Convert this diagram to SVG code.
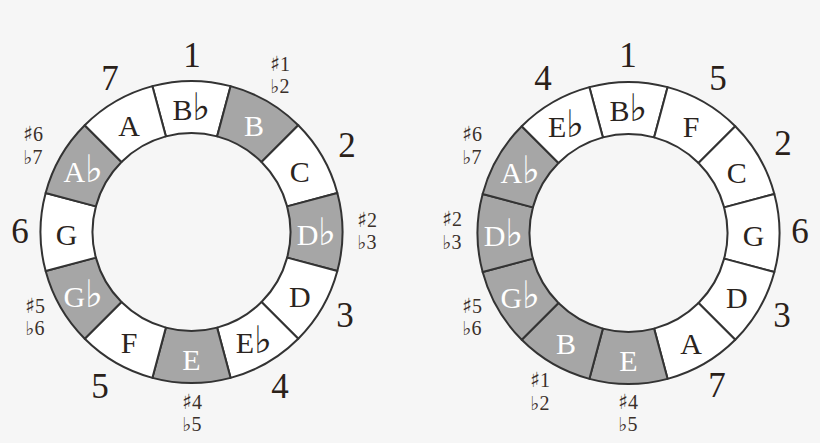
<svg xmlns="http://www.w3.org/2000/svg" xmlns:xlink="http://www.w3.org/1999/xlink" width="820" height="443" viewBox="0 0 820 443">
<defs>
<style>
.seg{stroke:#333;stroke-width:2;stroke-linejoin:round}
.w{fill:#fff}
.g{fill:#a6a6a6}
text{font-family:"Liberation Serif","DejaVu Serif",serif;text-anchor:middle}
.a{font-family:"DejaVu Sans","DejaVu Serif",sans-serif}
.n{font-size:30px;fill:#2a2420}
.n .a{font-size:38px}
.n.l{fill:#fff}
.num{font-size:35px;fill:#2a2119}
.sm{font-size:20px;fill:#3a302a}
.sm .s{font-size:21px}
.sm .f{font-size:19px}
</style>
<path id="s" d="M -39.08 -145.85 A 151 151 0 0 1 39.08 -145.85 L 25.62 -95.63 A 99 99 0 0 0 -25.62 -95.63 Z"/>
</defs>
<rect width="820" height="443" fill="#f6f6f6"/>

<g id="left" transform="translate(191.5 232)">
<g id="L-Bb"><use xlink:href="#s" class="seg w" transform="rotate(0)"/><text class="n" x="0" y="-112.5">B<tspan class="a">♭</tspan></text></g>
<g id="L-B"><use xlink:href="#s" class="seg g" transform="rotate(30)"/><text class="n l" x="62.5" y="-95.75">B</text></g>
<g id="L-C"><use xlink:href="#s" class="seg w" transform="rotate(60)"/><text class="n" x="108.25" y="-50">C</text></g>
<g id="L-Db"><use xlink:href="#s" class="seg g" transform="rotate(90)"/><text class="n l" x="125" y="12.5">D<tspan class="a">♭</tspan></text></g>
<g id="L-D"><use xlink:href="#s" class="seg w" transform="rotate(120)"/><text class="n" x="108.25" y="75">D</text></g>
<g id="L-Eb"><use xlink:href="#s" class="seg w" transform="rotate(150)"/><text class="n" x="62.5" y="120.75">E<tspan class="a">♭</tspan></text></g>
<g id="L-E"><use xlink:href="#s" class="seg g" transform="rotate(180)"/><text class="n l" x="0" y="137.5">E</text></g>
<g id="L-F"><use xlink:href="#s" class="seg w" transform="rotate(210)"/><text class="n" x="-62.5" y="120.75">F</text></g>
<g id="L-Gb"><use xlink:href="#s" class="seg g" transform="rotate(240)"/><text class="n l" x="-108.25" y="75">G<tspan class="a">♭</tspan></text></g>
<g id="L-G"><use xlink:href="#s" class="seg w" transform="rotate(270)"/><text class="n" x="-125" y="12.5">G</text></g>
<g id="L-Ab"><use xlink:href="#s" class="seg g" transform="rotate(300)"/><text class="n l" x="-108.25" y="-50">A<tspan class="a">♭</tspan></text></g>
<g id="L-A"><use xlink:href="#s" class="seg w" transform="rotate(330)"/><text class="n" x="-62.5" y="-95.75">A</text></g>
</g>

<g id="left-labels">
<text class="num" x="192" y="67">1</text>
<text class="num" x="110" y="90">7</text>
<text class="num" x="347" y="157">2</text>
<text class="num" x="345" y="327">3</text>
<text class="num" x="280" y="398">4</text>
<text class="num" x="100" y="398">5</text>
<text class="num" x="20" y="243">6</text>
<text class="sm" x="280" y="71"><tspan class="a s">♯</tspan>1</text><text class="sm" x="280" y="93"><tspan class="a f">♭</tspan>2</text>
<text class="sm" x="367" y="227"><tspan class="a s">♯</tspan>2</text><text class="sm" x="367" y="249"><tspan class="a f">♭</tspan>3</text>
<text class="sm" x="192" y="409"><tspan class="a s">♯</tspan>4</text><text class="sm" x="192" y="431"><tspan class="a f">♭</tspan>5</text>
<text class="sm" x="35" y="313"><tspan class="a s">♯</tspan>5</text><text class="sm" x="35" y="335"><tspan class="a f">♭</tspan>6</text>
<text class="sm" x="33" y="141"><tspan class="a s">♯</tspan>6</text><text class="sm" x="33" y="164"><tspan class="a f">♭</tspan>7</text>
</g>

<g id="right" transform="translate(628.5 233)">
<g id="R-Bb"><use xlink:href="#s" class="seg w" transform="rotate(0)"/><text class="n" x="0" y="-112.5">B<tspan class="a">♭</tspan></text></g>
<g id="R-F"><use xlink:href="#s" class="seg w" transform="rotate(30)"/><text class="n" x="62.5" y="-95.75">F</text></g>
<g id="R-C"><use xlink:href="#s" class="seg w" transform="rotate(60)"/><text class="n" x="108.25" y="-50">C</text></g>
<g id="R-G"><use xlink:href="#s" class="seg w" transform="rotate(90)"/><text class="n" x="125" y="12.5">G</text></g>
<g id="R-D"><use xlink:href="#s" class="seg w" transform="rotate(120)"/><text class="n" x="108.25" y="75">D</text></g>
<g id="R-A"><use xlink:href="#s" class="seg w" transform="rotate(150)"/><text class="n" x="62.5" y="120.75">A</text></g>
<g id="R-E"><use xlink:href="#s" class="seg g" transform="rotate(180)"/><text class="n l" x="0" y="137.5">E</text></g>
<g id="R-B"><use xlink:href="#s" class="seg g" transform="rotate(210)"/><text class="n l" x="-62.5" y="120.75">B</text></g>
<g id="R-Gb"><use xlink:href="#s" class="seg g" transform="rotate(240)"/><text class="n l" x="-108.25" y="75">G<tspan class="a">♭</tspan></text></g>
<g id="R-Db"><use xlink:href="#s" class="seg g" transform="rotate(270)"/><text class="n l" x="-125" y="12.5">D<tspan class="a">♭</tspan></text></g>
<g id="R-Ab"><use xlink:href="#s" class="seg g" transform="rotate(300)"/><text class="n l" x="-108.25" y="-50">A<tspan class="a">♭</tspan></text></g>
<g id="R-Eb"><use xlink:href="#s" class="seg w" transform="rotate(330)"/><text class="n" x="-62.5" y="-95.75">E<tspan class="a">♭</tspan></text></g>
</g>

<g id="right-labels">
<text class="num" x="628" y="67">1</text>
<text class="num" x="718" y="90">5</text>
<text class="num" x="783" y="155">2</text>
<text class="num" x="800" y="243">6</text>
<text class="num" x="782" y="327">3</text>
<text class="num" x="717" y="397">7</text>
<text class="num" x="543" y="90">4</text>
<text class="sm" x="628" y="409"><tspan class="a s">♯</tspan>4</text><text class="sm" x="628" y="431"><tspan class="a f">♭</tspan>5</text>
<text class="sm" x="540" y="387"><tspan class="a s">♯</tspan>1</text><text class="sm" x="540" y="410"><tspan class="a f">♭</tspan>2</text>
<text class="sm" x="472" y="313"><tspan class="a s">♯</tspan>5</text><text class="sm" x="472" y="335"><tspan class="a f">♭</tspan>6</text>
<text class="sm" x="452" y="226"><tspan class="a s">♯</tspan>2</text><text class="sm" x="452" y="249"><tspan class="a f">♭</tspan>3</text>
<text class="sm" x="472" y="141"><tspan class="a s">♯</tspan>6</text><text class="sm" x="472" y="164"><tspan class="a f">♭</tspan>7</text>
</g>
<g id="connectors"/>
</svg>
